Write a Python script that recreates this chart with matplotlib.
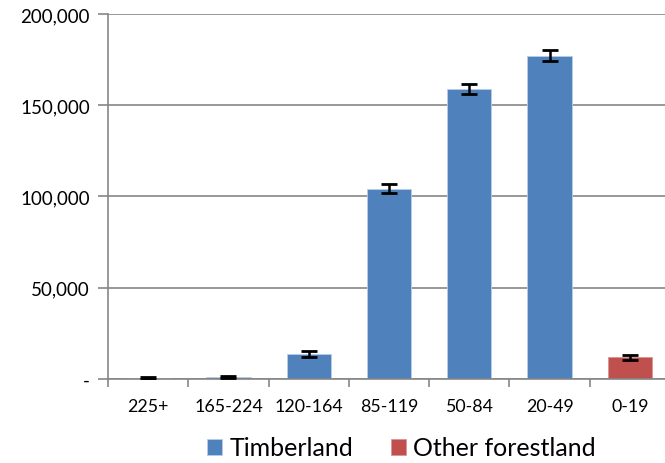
import matplotlib
matplotlib.use("Agg")
import matplotlib.pyplot as plt
import numpy as np
from matplotlib.ticker import FuncFormatter, FixedLocator

categories = ["225+", "165-224", "120-164", "85-119", "50-84", "20-49", "0-19"]
values = [600, 900, 13700, 104300, 158800, 177200, 11800]
errors = [400, 500, 1500, 2600, 2900, 3000, 1200]
groups = ["Timberland"] * 6 + ["Other forestland"]
colors = {"Timberland": "#4F81BD", "Other forestland": "#C0504D"}

plt.rcParams["font.family"] = ["Lato", "DejaVu Sans"]

fig = plt.figure(figsize=(6.65, 4.64), dpi=100)
ax = fig.add_axes([108 / 665, 1 - 380 / 464, (670 - 108) / 665, (380 - 15) / 464])

x = np.arange(len(categories))
for name in ["Timberland", "Other forestland"]:
    idx = [i for i, g in enumerate(groups) if g == name]
    ax.bar(x[idx], [values[i] for i in idx], width=0.55, color=colors[name],
           edgecolor="#B9CDE5" if name == "Timberland" else "#D99694", linewidth=0.6,
           label=name, zorder=2)
ax.errorbar(x, values, yerr=errors, fmt="none", ecolor="black", elinewidth=1.8,
            capsize=6, capthick=2, zorder=3)

ax.set_xlim(-0.5, len(categories) - 0.5)
ax.set_ylim(0, 200000)
ax.set_yticks([0, 50000, 100000, 150000, 200000])
ax.yaxis.set_major_formatter(FuncFormatter(lambda v, p: "-" if v == 0 else f"{int(v):,}"))
ax.set_xticks(x)
ax.set_xticklabels(categories)
ax.xaxis.set_minor_locator(FixedLocator(np.arange(-0.5, len(categories), 1.0)))
ax.tick_params(axis="x", which="major", length=0, pad=14, labelsize=12.8, colors="black")
ax.tick_params(axis="x", which="minor", length=6, width=1.2, color="#868686")
ax.tick_params(axis="y", length=7, width=1.2, color="#868686", labelsize=13.5, pad=6)
ax.grid(axis="y", color="#868686", linewidth=1.2, zorder=0)
ax.set_axisbelow(True)
for side in ["top", "right"]:
    ax.spines[side].set_visible(False)
for side in ["left", "bottom"]:
    ax.spines[side].set_color("#868686")
    ax.spines[side].set_linewidth(1.2)

handles, labels = ax.get_legend_handles_labels()
fig.legend(handles, labels, loc="center", bbox_to_anchor=(0.604, 1 - 449 / 464), ncol=2,
           frameon=False, fontsize=18, handlelength=0.6, handleheight=0.6,
           columnspacing=1.5, handletextpad=0.3, borderpad=0)

fig.savefig("out.png", dpi=100, facecolor="white")
